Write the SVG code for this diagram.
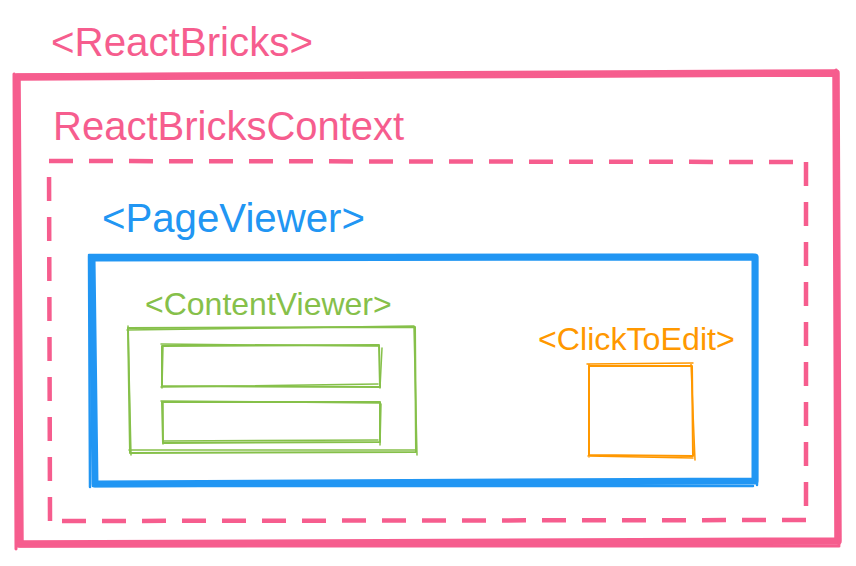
<svg xmlns="http://www.w3.org/2000/svg" width="856" height="566" viewBox="0 0 856 566">
<style>
.lbl{font-family:"Liberation Sans",Arial,Helvetica,sans-serif;}
.pink{fill:#F65D8E;}
.blue{fill:#2196F3;}
.green{fill:#86C04A;}
.orange{fill:#FF9800;}
.sk{fill:none;stroke-linecap:round;stroke-linejoin:round;}
.pk{stroke:#F65D8E;}
.bl{stroke:#2196F3;}
.gr{stroke:#86C04A;}
.or{stroke:#FF9800;}
</style>
<rect width="856" height="566" fill="#ffffff"/>
<g id="react-bricks">
<path class="sk pk" stroke-width="7.5" d="M17 77 L836 73 L838 541 L20 544 Z"/>
<path class="sk pk" stroke-width="3" d="M14 75 L833 72 M836 70 L839 545 M839 546 L18 546 M16 549 L14 74"/>
<text class="lbl pink" x="51" y="56" font-size="40.3">&lt;ReactBricks&gt;</text>
</g>
<g id="react-bricks-context">
<text class="lbl pink" x="53" y="140" font-size="40">ReactBricksContext</text>
<path class="pk" fill="none" stroke-width="4.5" stroke-dasharray="24 16" d="M49 161 L806 162"/>
<path class="pk" fill="none" stroke-width="4.5" stroke-dasharray="24 16" d="M806 162 L806 520"/>
<path class="pk" fill="none" stroke-width="4.5" stroke-dasharray="24 16" d="M806 520 L50 521"/>
<path class="pk" fill="none" stroke-width="4.5" stroke-dasharray="24 16" d="M50 521 L49 161"/>
</g>
<g id="page-viewer">
<text class="lbl blue" x="102" y="232" font-size="40.2">&lt;PageViewer&gt;</text>
<path class="sk bl" stroke-width="7" d="M92 258 L755 257 L755 481 L95 484 Z"/>
<path class="sk bl" stroke-width="2.5" d="M89 255 L753 255 M757 256 L757 485 M753 486 L93 486 M90 487 L89 256"/>
</g>
<g id="content-viewer">
<text class="lbl green" x="145" y="315" font-size="32">&lt;ContentViewer&gt;</text>
<path class="sk gr" stroke-width="2" d="M128 328 L415 327 L416 452 L130 453 Z"/>
<path class="sk gr" stroke-width="1.5" d="M127 330 L414 326 M414 327 L417 455 M415 450 L129 450 M131 455 L128 326"/>
<path class="sk gr" stroke-width="2" d="M162 346 L379 345 L380 387 L162 386 Z"/>
<path class="sk gr" stroke-width="1.5" d="M161 344 L378 346 M382 348 L380 388 M378 384 L161 387 M163 346 L162 388"/>
<path class="sk gr" stroke-width="2" d="M162 402 L380 402 L380 442 L163 443 Z"/>
<path class="sk gr" stroke-width="1.5" d="M161 401 L379 403 M381 404 L380 445 M378 440 L163 441 M163 403 L163 444"/>
</g>
<g id="click-to-edit">
<text class="lbl orange" x="538" y="350" font-size="32.2">&lt;ClickToEdit&gt;</text>
<path class="sk or" stroke-width="2" d="M589 366 L692 366 L693 456 L589 455 Z"/>
<path class="sk or" stroke-width="1.5" d="M587 364 L693 363 M691 364 L695 460 M693 458 L588 456 M589 457 L589 364"/>
</g>
</svg>
